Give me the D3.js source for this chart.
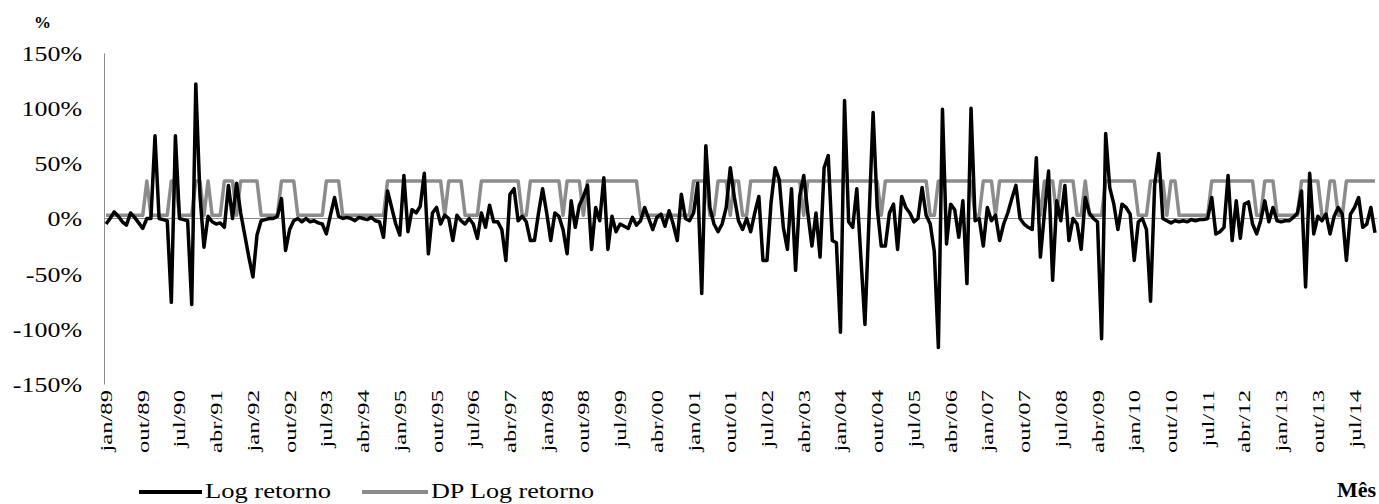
<!DOCTYPE html>
<html>
<head>
<meta charset="utf-8">
<script src="https://cdn.jsdelivr.net/npm/d3@7"></script>
<style>
  body { margin: 0; background: #fff; }
  svg { display: block; font-family: "Liberation Serif", "Times New Roman", serif; }
</style>
</head>
<body>
<div id="main"></div>
<script>
const ctx = {
    CHART_WIDTH: 1379,
    CHART_HEIGHT: 504,
    left: 104,
    right: 1377,
    top: 53,
    bottom: 384
};

// categories
const monthNames = ["jan","fev","mar","abr","mai","jun","jul","ago","set","out","nov","dez"];
const years = [1989,1990,1991,1992,1993,1994,1995,1996,1997,1998,1999,2000,2001,
               2002,2003,2004,2005,2006,2007,2008,2009,2010,2011,2012,2013,2014];
const yTicks = [-150, -100, -50, 0, 50, 100, 150];
const seriesNames = ["Log retorno", "DP Log retorno"];

// Log retorno (%), one row per year jan..dez
const logRet = [
  -5, 0, 6, 2, -3, -6, 5, 1, -4, -9, 0, 0,
  75, 0, -1, -2, -76, 75, 0, -1, -2, -78, 122, 22,
  -26, 2, -3, -5, -4, -8, 30, 0, 32, 5, -15, -35,
  -53, -15, -2, -1, 0, 0, 2, 18, -29, -10, -2, 0,
  -3, 0, -3, -2, -4, -5, -14, 3, 19, 2, 0, 1,
  0, -2, 1, 0, -1, 1, -2, -3, -17, 25, 10, -5,
  -15, 39, -12, 8, 5, 11, 41, -32, 5, 10, -5, 3,
  0, -20, 3, -2, -5, 0, -5, -18, 5, -8, 12, -3,
  -3, -10, -38, 22, 27, -2, 2, -3, -20, -20, 5, 27,
  5, -20, 5, 2, -10, -32, 16, -8, 12, 20, 30, -28,
  10, -2, 37, -28, 2, -12, -5, -7, -9, 1, -6, -2,
  10, 0, -10, 1, 4, -7, 7, -5, -20, 22, 0, -2,
  5, 32, -68, 66, 10, -5, -12, -5, 10, 46, 19, -2,
  -10, 0, -12, 5, 20, -38, -38, 15, 46, 35, -8, -28,
  27, -47, 20, 39, 5, -25, 5, -35, 46, 57, -20, -22,
  -103, 107, -3, -8, 27, -35, -96, 0, 96, 10, -25, -25,
  5, 13, -28, 20, 10, 5, -3, 0, 28, 3, -5, -30,
  -117, 99, -23, 13, 8, -17, 16, -59, 100, -2, 0, -25,
  10, -2, 3, -20, -5, 5, 18, 30, 0, -5, -8, -10,
  55, -35, 5, 43, -56, 16, -2, 30, -20, 0, -5, -28,
  19, 5, 0, -3, -109, 77, 28, 13, -10, 13, 10, 4,
  -38, -3, 0, -10, -75, 30, 59, 0, -2, -4, -2, -3,
  -2, -3, -1, -2, -1, -1, 0, 19, -14, -12, -8, 39,
  -20, 16, -18, 13, 15, -5, -14, -2, 16, -3, 10, -2,
  -3, -2, -2, 1, 5, 25, -62, 41, -14, 2, -2, 4,
  -14, 2, 10, 4, -38, 4, 10, 19, -8, -5, 10, -13
];

// DP Log retorno (%), one row per year jan..dez
const dpLogRet = [
  3, 3, 3, 3, 3, 3, 3, 3, 3, 3, 34, 3,
  3, 3, 3, 3, 34, 34, 3, 3, 3, 3, 34, 34,
  3, 34, 3, 3, 3, 34, 34, 34, 3, 34, 34, 34,
  34, 34, 3, 3, 3, 3, 3, 34, 34, 34, 34, 3,
  3, 3, 3, 3, 3, 3, 34, 34, 34, 34, 3, 3,
  3, 3, 3, 3, 3, 3, 3, 3, 3, 34, 34, 34,
  34, 34, 34, 34, 34, 34, 34, 34, 34, 34, 34, 3,
  34, 34, 34, 34, 3, 3, 3, 3, 34, 34, 34, 34,
  34, 34, 34, 34, 34, 34, 3, 3, 34, 34, 34, 34,
  34, 34, 34, 34, 3, 34, 34, 34, 34, 3, 34, 34,
  34, 34, 34, 34, 34, 34, 34, 34, 34, 34, 34, 3,
  3, 3, 3, 3, 3, 3, 3, 3, 3, 3, 3, 3,
  34, 34, 34, 34, 3, 3, 34, 34, 34, 3, 34, 34,
  3, 3, 34, 34, 34, 34, 34, 34, 34, 34, 34, 34,
  34, 34, 34, 3, 34, 34, 34, 34, 34, 34, 34, 34,
  34, 34, 34, 34, 34, 34, 34, 34, 34, 34, 3, 34,
  34, 34, 34, 34, 34, 34, 34, 34, 34, 34, 3, 3,
  34, 34, 34, 34, 34, 34, 34, 34, 34, 3, 3, 34,
  34, 34, 3, 34, 34, 34, 34, 34, 34, 34, 34, 34,
  34, 3, 34, 34, 34, 3, 34, 34, 34, 34, 3, 3,
  34, 3, 3, 3, 3, 34, 34, 34, 34, 34, 34, 34,
  34, 3, 3, 3, 34, 34, 34, 34, 3, 34, 34, 3,
  3, 3, 3, 3, 3, 3, 3, 34, 34, 34, 34, 34,
  34, 34, 34, 34, 34, 34, 3, 3, 34, 34, 34, 3,
  3, 3, 3, 3, 3, 34, 34, 34, 34, 34, 3, 3,
  34, 34, 3, 3, 34, 34, 34, 34, 34, 34, 34, 34
];

function createViz() {
    const months = [];
    years.forEach(y => monthNames.forEach(m => months.push(m + "/" + String(y).slice(2))));

    const data = months.map((m, i) => ({ month: m, lr: logRet[i], dp: dpLogRet[i] }));

    ctx.xScale = d3.scaleBand().domain(months).range([ctx.left, ctx.right]);
    ctx.yScale = d3.scaleLinear().domain([-150, 150]).range([ctx.bottom, ctx.top]);
    const xc = d => ctx.xScale(d.month) + ctx.xScale.bandwidth() / 2;

    const svg = d3.select("#main").append("svg")
        .attr("width", ctx.CHART_WIDTH)
        .attr("height", ctx.CHART_HEIGHT);
    const g = svg.append("g").attr("id", "mainG");

    // y axis
    const yAxis = g.append("g")
        .attr("transform", `translate(${ctx.left},0)`)
        .call(d3.axisLeft(ctx.yScale).tickValues(yTicks).tickSize(0)
                .tickFormat(d => d + "%"))
        .call(a => a.attr("font-family", null).attr("font-size", null))
        .call(a => a.select(".domain").attr("stroke", "#8a8a8a"));
    yAxis.selectAll("text")
        .attr("x", 0).attr("dy", "0.34em")
        .attr("transform", "translate(-22,0) scale(1.18,1)")
        .style("font-size", "22px")
        .attr("fill", "#000");

    // zero line
    g.append("line")
        .attr("x1", ctx.left).attr("x2", ctx.right)
        .attr("y1", ctx.yScale(0)).attr("y2", ctx.yScale(0))
        .attr("stroke", "#8a8a8a").attr("stroke-width", 1);

    // x labels every 9 months
    const xAxis = g.append("g")
        .attr("transform", `translate(0,${ctx.bottom})`)
        .call(d3.axisBottom(ctx.xScale)
                .tickValues(months.filter((d, i) => i % 9 === 0))
                .tickSize(0))
        .call(a => a.attr("font-family", null).attr("font-size", null))
        .call(a => a.select(".domain").remove());
    xAxis.selectAll("text")
        .attr("y", 0).attr("x", 0).attr("dy", null)
        .attr("transform", "rotate(-90) translate(-6,6) scale(1.45,1)")
        .style("text-anchor", "end")
        .style("font-size", "17px")
        .attr("fill", "#000");

    // DP series
    g.append("path")
        .datum(data)
        .attr("fill", "none")
        .attr("stroke", "#8c8c8c")
        .attr("stroke-width", 3.5)
        .attr("stroke-linejoin", "round")
        .attr("d", d3.line().x(xc).y(d => ctx.yScale(d.dp)));

    // Log retorno series
    g.append("path")
        .datum(data)
        .attr("fill", "none")
        .attr("stroke", "#000")
        .attr("stroke-width", 3.5)
        .attr("stroke-linejoin", "round")
        .attr("d", d3.line().x(xc).y(d => ctx.yScale(d.lr)));

    // "%" title
    g.append("text")
        .attr("x", 34).attr("y", 28)
        .style("font-size", "17px").style("font-weight", "bold")
        .text("%");

    // "Mês"
    g.append("text")
        .attr("x", 1376).attr("y", 497)
        .style("font-size", "22px").style("font-weight", "bold")
        .style("text-anchor", "end")
        .text("Mês");

    // legend
    const legend = [
        { name: seriesNames[0], color: "#000", x0: 139, x1: 202, tx: 205, tl: 126 },
        { name: seriesNames[1], color: "#8c8c8c", x0: 362, x1: 428, tx: 431, tl: 163 }
    ];
    const lg = g.append("g").attr("id", "legend");
    lg.selectAll("line").data(legend).join("line")
        .attr("x1", d => d.x0).attr("x2", d => d.x1)
        .attr("y1", 492).attr("y2", 492)
        .attr("stroke", d => d.color).attr("stroke-width", 4);
    lg.selectAll("text").data(legend).join("text")
        .attr("x", d => d.tx).attr("y", 498)
        .attr("textLength", d => d.tl).attr("lengthAdjust", "spacingAndGlyphs")
        .style("font-size", "20px")
        .text(d => d.name);
}

createViz();
</script>
</body>
</html>
